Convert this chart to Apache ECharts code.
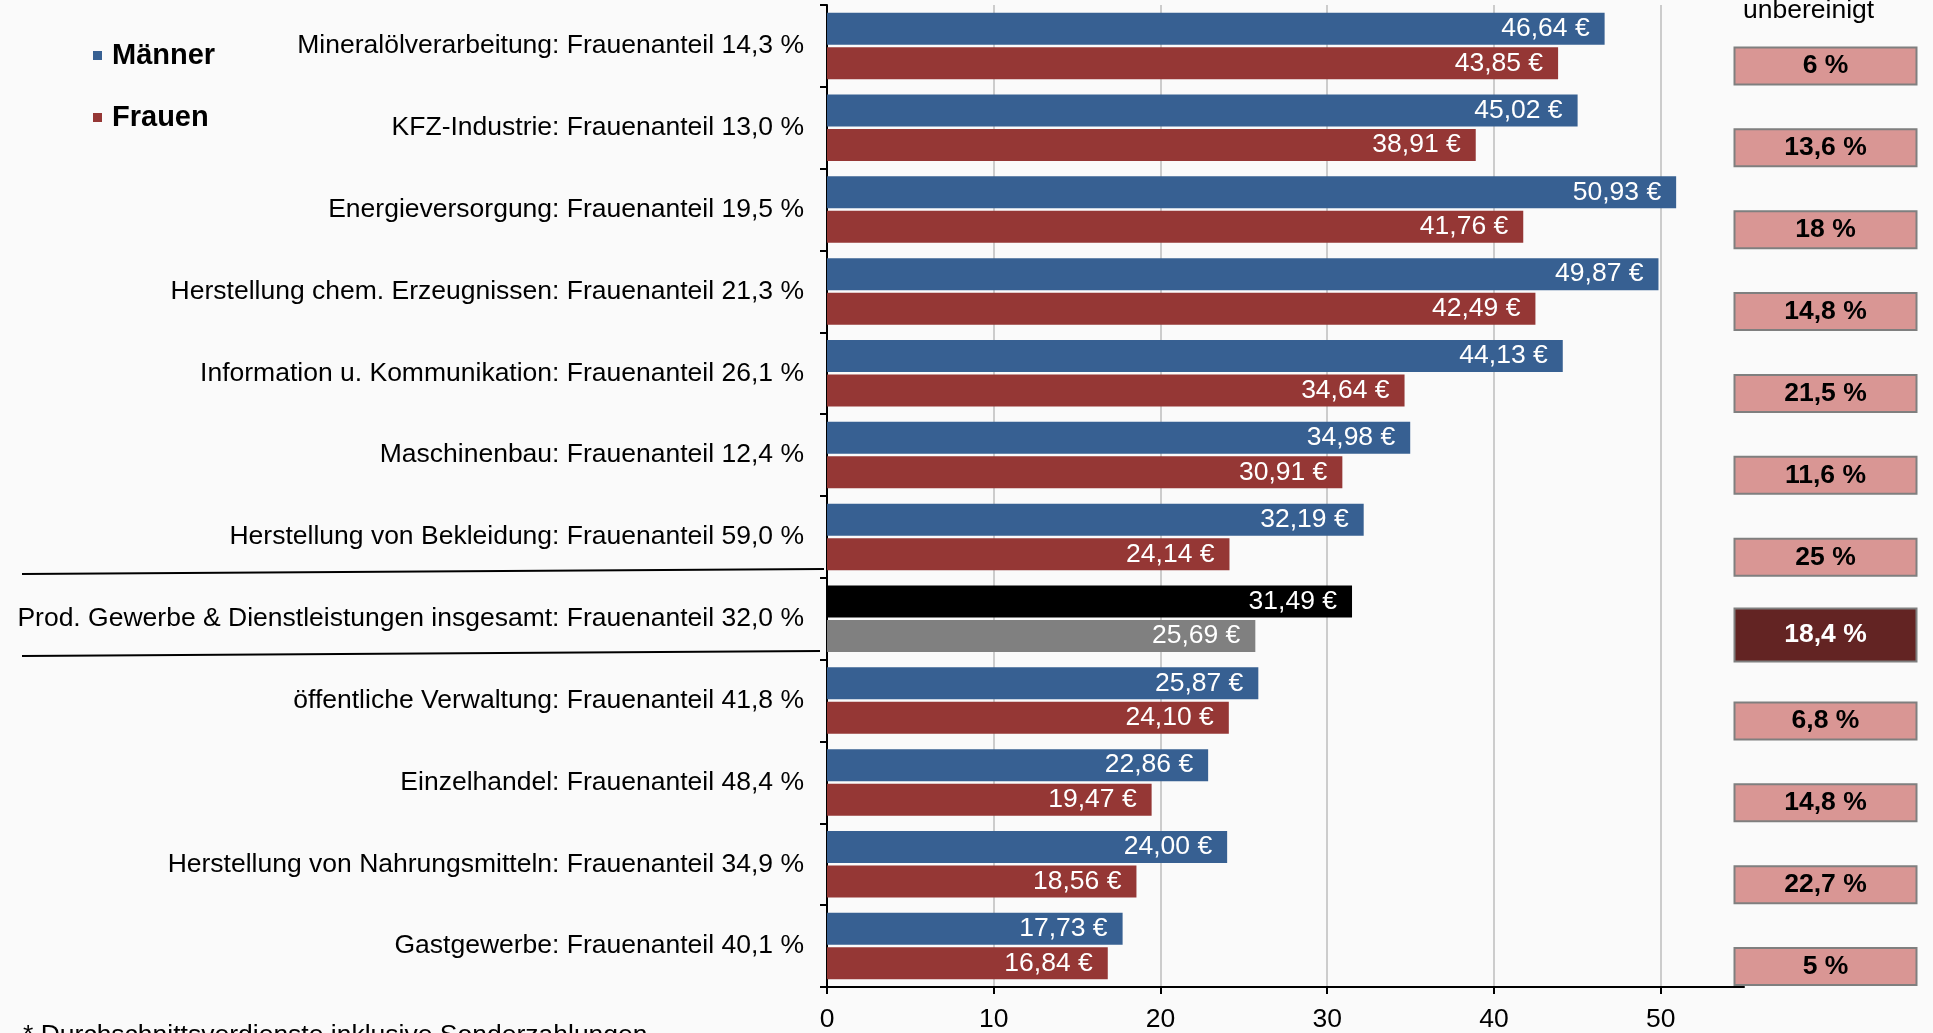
<!DOCTYPE html>
<html>
<head>
<meta charset="utf-8">
<script src="https://cdn.jsdelivr.net/npm/echarts@6/dist/echarts.min.js"></script>
<style>
html,body{margin:0;padding:0;background:#fafafa;}
#chart{width:1933px;height:1033px;}
</style>
</head>
<body>
<div id="chart"></div>
<script>
// ---- data ----
const branchen = ['Mineralölverarbeitung','KFZ-Industrie','Energieversorgung','Herstellung chem. Erzeugnissen','Information u. Kommunikation','Maschinenbau','Herstellung von Bekleidung','Prod. Gewerbe & Dienstleistungen insgesamt','öffentliche Verwaltung','Einzelhandel','Herstellung von Nahrungsmitteln','Gastgewerbe'];
const frauenanteil = [14.3, 13.0, 19.5, 21.3, 26.1, 12.4, 59.0, 32.0, 41.8, 48.4, 34.9, 40.1];
const maenner = [46.64, 45.02, 50.93, 49.87, 44.13, 34.98, 32.19, 31.49, 25.87, 22.86, 24.00, 17.73];
const frauen = [43.85, 38.91, 41.76, 42.49, 34.64, 30.91, 24.14, 25.69, 24.10, 19.47, 18.56, 16.84];
const gapUnbereinigt = [6, 13.6, 18, 14.8, 21.5, 11.6, 25, 18.4, 6.8, 14.8, 22.7, 5];
const xTicks = [0, 10, 20, 30, 40, 50];
const totalIndex = 7;

const FONT = '"Liberation Sans", Arial, sans-serif';
const fmtComma = (v, d) => v.toFixed(d).replace('.', ',');
const categories = branchen.map((b, i) => b + ': Frauenanteil ' + fmtComma(frauenanteil[i], 1) + ' %');

const chart = echarts.init(document.getElementById('chart'));
const labelCfg = {
  show: true, position: 'insideRight', distance: 15,
  color: '#ffffff', fontSize: 26.5, fontFamily: FONT,
  formatter: p => fmtComma(p.value, 2) + ' €'
};

const option = {
  animation: false,
  backgroundColor: '#fafafa',
  textStyle: {fontFamily: FONT},
  legend: {
    orient: 'vertical', left: 88, top: 36,
    itemWidth: 9, itemHeight: 9, itemGap: 33, icon: 'rect',
    textStyle: {fontSize: 29, fontWeight: 'bold', color: '#000', fontFamily: FONT, padding: [0, 0, 0, 5]},
    data: ['Männer', 'Frauen'],
    selectedMode: false
  },
  grid: [
    {left: 827, right: 189, top: 5, bottom: 45.5, containLabel: false},
    {left: 1733, width: 185, top: 5, bottom: 45.5, containLabel: false}
  ],
  xAxis: [
    {
      type: 'value', gridIndex: 0, min: 0, max: 55, interval: 10,
      axisLine: {show: true, lineStyle: {color: '#000', width: 2}},
      axisTick: {show: true, length: 7, lineStyle: {color: '#000', width: 2}, customValues: xTicks},
      axisLabel: {color: '#000', fontSize: 26.5, fontFamily: FONT, margin: 19, customValues: xTicks},
      splitLine: {show: true, lineStyle: {color: '#bdbdbd', width: 1.5}}
    },
    {type: 'value', gridIndex: 1, min: 0, max: 1, show: false}
  ],
  yAxis: [
    {
      type: 'category', gridIndex: 0, inverse: true, data: categories,
      axisLine: {show: true, lineStyle: {color: '#000', width: 2}},
      axisTick: {show: true, length: 7, lineStyle: {color: '#000', width: 2}},
      axisLabel: {color: '#000', fontSize: 26.5, fontFamily: FONT, margin: 23}
    },
    {type: 'category', gridIndex: 1, inverse: true, data: categories, show: false}
  ],
  series: [
    {
      name: 'Männer', type: 'bar', xAxisIndex: 0, yAxisIndex: 0,
      barWidth: 32, barGap: '8%',
      itemStyle: {color: '#376092'},
      label: labelCfg,
      emphasis: {disabled: true},
      data: maenner.map((v, i) => i === totalIndex ? {value: v, itemStyle: {color: '#000000'}} : v)
    },
    {
      name: 'Frauen', type: 'bar', xAxisIndex: 0, yAxisIndex: 0,
      barWidth: 32, barGap: '8%',
      itemStyle: {color: '#953735'},
      label: labelCfg,
      emphasis: {disabled: true},
      data: frauen.map((v, i) => i === totalIndex ? {value: v, itemStyle: {color: '#808080'}} : v)
    },
    {
      name: 'unbereinigt', type: 'scatter', xAxisIndex: 1, yAxisIndex: 1,
      symbol: 'rect', symbolSize: [1, 1],
      itemStyle: {color: 'rgba(0,0,0,0)', opacity: 1},
      label: {
        show: true, position: 'inside', offset: [0, 20],
        color: '#000', fontSize: 26.5, fontWeight: 'bold', fontFamily: FONT,
        width: 180, height: 35, lineHeight: 35, align: 'center', verticalAlign: 'middle',
        backgroundColor: '#d99694', borderColor: '#7f7f7f', borderWidth: 2, padding: 0,
        formatter: p => fmtComma(p.value[2], gapUnbereinigt[p.dataIndex] % 1 === 0 ? 0 : 1) + ' %'
      },
      emphasis: {disabled: true},
      data: gapUnbereinigt.map((g, i) => i === totalIndex
        ? {value: [0.5, i, g],
           label: {color: '#ffffff', backgroundColor: '#632423', height: 51, lineHeight: 51, offset: [0, 16]}}
        : {value: [0.5, i, g]})
    }
  ],
  graphic: [
    {type: 'line', shape: {x1: 22, y1: 574, x2: 824, y2: 569}, style: {stroke: '#000', lineWidth: 2}, silent: true},
    {type: 'line', shape: {x1: 22, y1: 656, x2: 820, y2: 651}, style: {stroke: '#000', lineWidth: 2}, silent: true},
    {type: 'text', left: 1743, top: -3, style: {text: 'unbereinigt', fontSize: 26.5, fontFamily: FONT, fill: '#000'}},
    {type: 'text', left: 23, top: 1022, style: {text: '* Durchschnittsverdienste inklusive Sonderzahlungen', fontSize: 26.5, fontFamily: FONT, fill: '#000'}}
  ]
};
chart.setOption(option);
</script>
</body>
</html>
